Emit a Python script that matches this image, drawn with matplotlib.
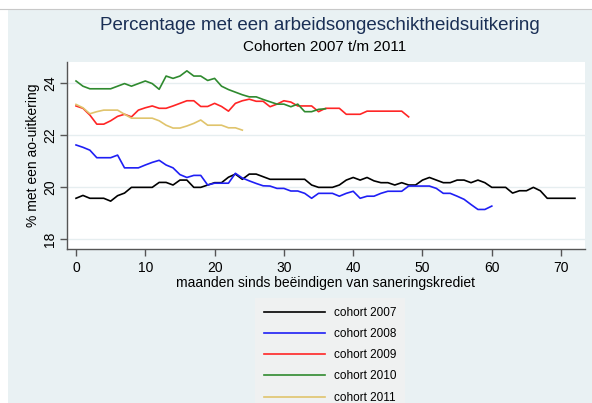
import numpy as np
import matplotlib
matplotlib.use('Agg')
import matplotlib.pyplot as plt

plt.rcParams['font.family'] = ['Liberation Sans', 'DejaVu Sans']

# percentages, one value per month
cohort_2007 = [19.57, 19.68, 19.57, 19.57, 19.57, 19.46, 19.67, 19.77, 19.99, 19.99,
               19.99, 19.99, 20.18, 20.18, 20.08, 20.27, 20.27, 19.99, 19.99, 20.08,
               20.17, 20.17, 20.38, 20.50, 20.30, 20.50, 20.50, 20.40, 20.30, 20.30,
               20.30, 20.30, 20.30, 20.30, 20.08, 19.99, 19.99, 19.99, 20.08, 20.27,
               20.37, 20.27, 20.37, 20.24, 20.17, 20.17, 20.08, 20.17, 20.08, 20.08,
               20.27, 20.37, 20.27, 20.17, 20.17, 20.27, 20.27, 20.17, 20.27, 20.17,
               19.99, 19.99, 19.99, 19.77, 19.86, 19.86, 19.99, 19.86, 19.57, 19.57,
               19.57, 19.57, 19.57]
cohort_2008 = [21.62, 21.53, 21.42, 21.13, 21.13, 21.13, 21.23, 20.74, 20.74, 20.74,
               20.85, 20.95, 21.03, 20.85, 20.74, 20.48, 20.37, 20.45, 20.45, 20.08,
               20.15, 20.15, 20.15, 20.53, 20.35, 20.24, 20.14, 20.05, 20.04, 19.95,
               19.95, 19.85, 19.85, 19.76, 19.57, 19.76, 19.76, 19.76, 19.65, 19.76,
               19.84, 19.57, 19.65, 19.65, 19.76, 19.84, 19.84, 19.84, 20.04, 20.04,
               20.04, 20.04, 19.95, 19.76, 19.76, 19.65, 19.53, 19.33, 19.14, 19.14,
               19.27]
cohort_2009 = [23.12, 23.03, 22.77, 22.42, 22.42, 22.55, 22.72, 22.80, 22.70, 22.96,
               23.05, 23.12, 23.03, 23.03, 23.12, 23.22, 23.32, 23.32, 23.10, 23.10,
               23.22, 23.10, 22.92, 23.22, 23.32, 23.38, 23.30, 23.30, 23.09, 23.19,
               23.32, 23.27, 23.12, 23.12, 23.12, 22.90, 23.03, 23.03, 23.03, 22.80,
               22.80, 22.80, 22.92, 22.92, 22.92, 22.92, 22.92, 22.92, 22.70]
cohort_2010 = [24.08, 23.88, 23.78, 23.78, 23.78, 23.78, 23.88, 23.98, 23.88, 23.98,
               24.08, 23.98, 23.76, 24.27, 24.18, 24.27, 24.47, 24.27, 24.27, 24.10,
               24.18, 23.88, 23.75, 23.65, 23.55, 23.47, 23.47, 23.37, 23.28, 23.19,
               23.19, 23.09, 23.19, 22.90, 22.90, 22.99, 23.01]
cohort_2011 = [23.18, 23.05, 22.82, 22.90, 22.96, 22.96, 22.96, 22.80, 22.65, 22.65,
               22.65, 22.65, 22.55, 22.38, 22.27, 22.27, 22.35, 22.45, 22.58, 22.38,
               22.38, 22.38, 22.28, 22.28, 22.19]

series = [('cohort 2007', cohort_2007, 'black'),
          ('cohort 2008', cohort_2008, '#1f1ff5'),
          ('cohort 2009', cohort_2009, '#ff2525'),
          ('cohort 2010', cohort_2010, '#2f8a2f'),
          ('cohort 2011', cohort_2011, '#e0c46c')]

bg = '#e9f1f3'
fig = plt.figure(figsize=(5.92, 4.03), dpi=100, facecolor='white')
# bluish graph region with white margin at left/top
fig.patches.append(plt.Rectangle((8 / 592, 0), 1, 1 - 9 / 403, transform=fig.transFigure,
                                 facecolor=bg, edgecolor='none', zorder=-10))
fig.lines.append(plt.Line2D([0, 1], [1 - 9 / 403, 1 - 9 / 403], transform=fig.transFigure,
                            color='#c8c8c8', lw=0.8))

ax = fig.add_axes([67 / 592, 1 - 249 / 403, (585 - 67) / 592, (249 - 62) / 403])
ax.set_facecolor('white')

for name, vals, col in series:
    ax.plot(np.arange(len(vals)), vals, color=col, lw=1.2, label=name)

ax.set_xlim(-1.3, 73.45)
ax.set_ylim(17.62, 24.81)
ax.set_xticks([0, 10, 20, 30, 40, 50, 60, 70])
ax.set_yticks([18, 20, 22, 24])
ax.grid(axis='y', color='#e6eef0', lw=1.0)
ax.set_axisbelow(True)
for s in ['top', 'right']:
    ax.spines[s].set_visible(False)
for s in ['left', 'bottom']:
    ax.spines[s].set_color('#555555')
    ax.spines[s].set_linewidth(1.0)
ax.tick_params(colors='#555555', labelcolor='black', labelsize=10, length=5, width=1.0)
ax.tick_params(axis='y', pad=2)
for lab in ax.get_yticklabels():
    lab.set_rotation(90)
    lab.set_va('center')
ax.set_xlabel('maanden sinds beëindigen van saneringskrediet', fontsize=10, labelpad=1)
ax.set_ylabel('% met een ao-uitkering', fontsize=10, labelpad=2)

fig.text(320 / 592, 1 - 25 / 403, 'Percentage met een arbeidsongeschiktheidsuitkering',
         ha='center', va='center', fontsize=13.5, color='#1a2f55')
fig.text(325 / 592, 1 - 47 / 403, 'Cohorten 2007 t/m 2011', ha='center', va='center',
         fontsize=11, color='black')

leg = fig.legend(loc='upper left', bbox_to_anchor=(255 / 592, 1 - 298 / 403),
                 frameon=True, fontsize=8.5, handlelength=5.2, handletextpad=0.7,
                 labelspacing=0.78, borderpad=0.75, borderaxespad=0, fancybox=False)
leg.get_frame().set_facecolor('#f1f1f1')
leg.get_frame().set_edgecolor('none')

fig.savefig('out.png', dpi=100, facecolor=fig.get_facecolor())
